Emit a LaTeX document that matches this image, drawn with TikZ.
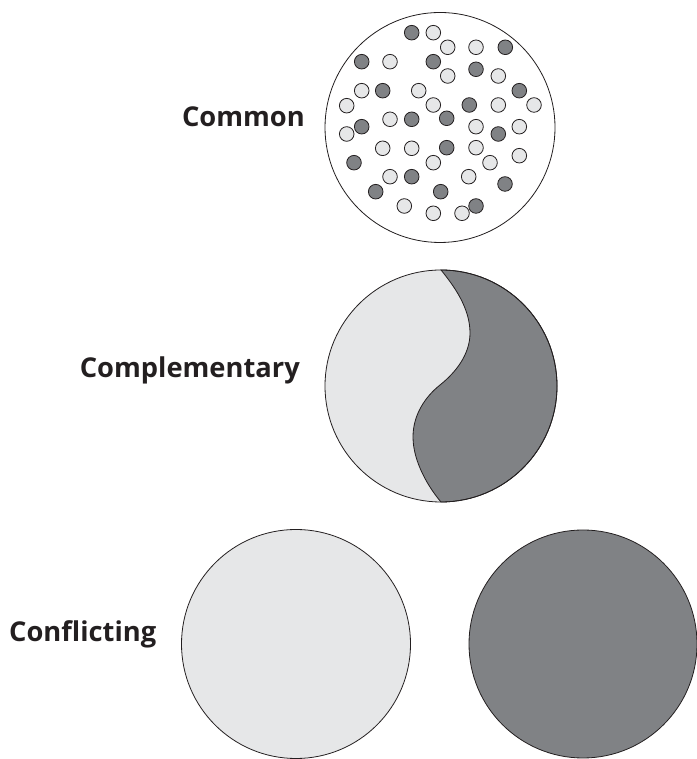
\documentclass[tikz,border=0pt]{standalone}
\usepackage{fontspec}
\setmainfont{Open Sans}
\definecolor{lightg}{HTML}{E6E7E8}
\definecolor{darkg}{HTML}{808285}
\definecolor{ink}{HTML}{231F20}
\begin{document}
\begin{tikzpicture}[x=1pt,y=1pt,
  outline/.style={draw=ink,line width=0.8pt},
  ldot/.style={fill=lightg,draw=ink,line width=0.8pt},
  ddot/.style={fill=darkg,draw=ink,line width=0.8pt},
  lab/.style={font=\fontsize{27.3}{31}\selectfont\bfseries,text=ink,inner sep=0pt}]
\useasboundingbox (0,0) rectangle (696,759);
% Common
\draw[outline,fill=white] (440,631.5) circle (115);
\foreach \x/\y in {433.3/32.7,447.7/47.3,476/47.3,390/61.7,447.7/76,498.3/76,361.7/90.7,418.7/90.7,346.7/105.7,433.3/105,498.3/105,534/105,390/119.3,346.7/134,476/126.7,519.3/126.7,382.7/148.3,411.7/148.3,476/147.7,433.3/162.7,490/162.7,519.3/155.7,390/176.7,468.7/176.7,404.3/206,433.3/213.3,462/213.3}
  \draw[ldot] (\x,{759-\y}) circle (7.3);
\foreach \x/\y in {411.7/32.7,505.3/47.3,361.7/61.7,433.3/61.7,476/69.3,382.7/90.7,519.3/90.7,469.3/105,411.7/119.3,446.7/118.3,361.7/126.7,498.3/134,446.7/147.7,354/162.7,411.7/176.7,505/184,375.7/191.7,440.7/191.7,476/206}
  \draw[ddot] (\x,{759-\y}) circle (7.3);
\node[lab,anchor=base east] (common) at (305,632) {Common};
% Complementary
\fill[lightg] (441,373) circle (116);
\draw[outline,fill=darkg] (441,489) arc[start angle=90,end angle=-90,radius=116]
  .. controls (429,271) and (413,297) .. (413,322)
  .. controls (413,344) and (425,362) .. (440,374)
  .. controls (455,386) and (470,404) .. (470,426)
  .. controls (470,451) and (454,473) .. (441,489) -- cycle;
\draw[outline] (441,373) circle (116);
\node[lab,anchor=base east] (compl) at (300,381) {Complementary};
% Conflicting
\draw[outline,fill=lightg] (296,115) circle (114.5);
\draw[outline,fill=darkg] (583,115) circle (114);
\node[lab,anchor=base west] (confl) at (9,117) {Conflicting};
\end{tikzpicture}
\end{document}
